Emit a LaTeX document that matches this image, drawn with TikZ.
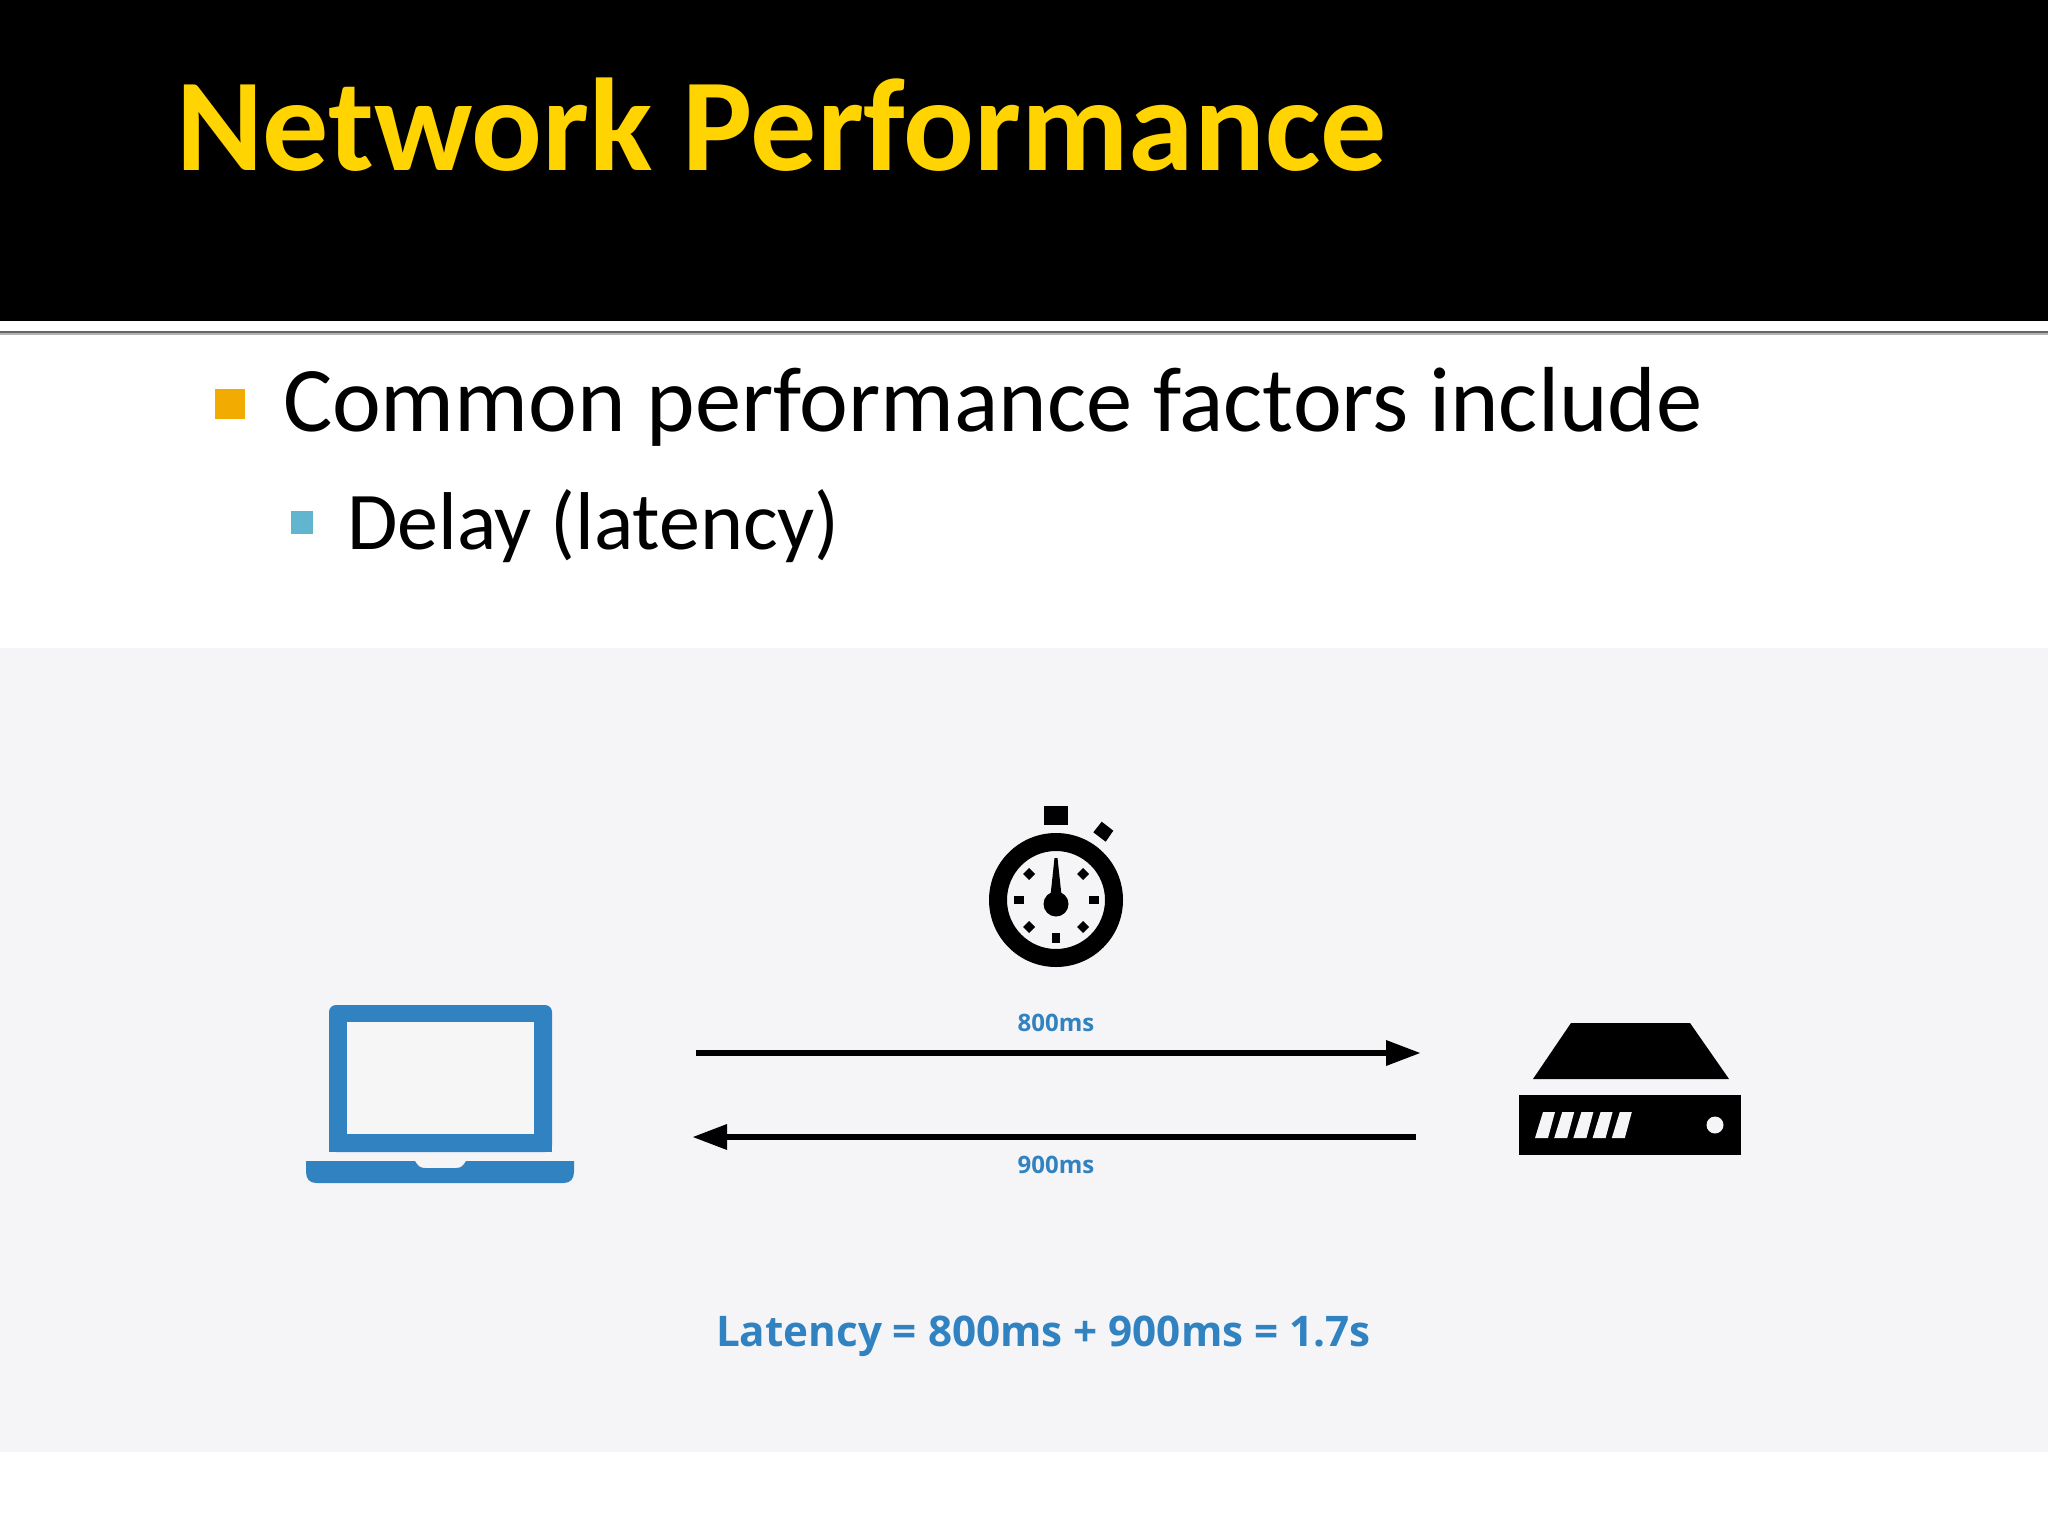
\documentclass[tikz,border=0pt]{standalone}
\usepackage{fontspec}
\setmainfont{Carlito}
\newfontfamily\osans{Open Sans}
\definecolor{panelgrey}{HTML}{F5F4F7}
\definecolor{lapblue}{HTML}{3182C0}
\definecolor{titleyellow}{HTML}{FFD400}
\definecolor{bulletorange}{HTML}{F2AB00}
\definecolor{bulletteal}{HTML}{62B5CF}
\definecolor{screenfill}{HTML}{F6F6F6}
\tikzset{
  txt/.style={inner sep=0pt,outer sep=0pt,anchor=base west},
  ms/.style={inner sep=0pt,outer sep=0pt,anchor=base,text=lapblue,font=\osans\bfseries\fontsize{24}{24}\selectfont},
  flow/.style={line width=6pt,draw=black},
  head/.style={fill=black,draw=none},
}
\begin{document}
\begin{tikzpicture}[x=1pt,y=-1pt]
\useasboundingbox (0,0) rectangle (2048,1536);
\fill[white] (0,0) rectangle (2048,1536);
\fill[black] (0,0) rectangle (2048,321);
\fill[black!30] (0,333) rectangle (2048,335);
\fill[black!60] (0,331) rectangle (2048,333);
\fill[panelgrey] (0,648) rectangle (2048,1452);
% texts
\node[txt,text=titleyellow,font=\bfseries\fontsize{132}{132}\selectfont] (title) at (176,171) {Network Performance};
\node[txt,font=\fontsize{92.4}{92.4}\selectfont] (l1) at (283,431) {Common performance factors include};
\node[txt,font=\fontsize{82}{82}\selectfont] (l2) at (347,549) {Delay (latency)};
\fill[bulletorange] (215,389) rectangle (245,419);
\fill[bulletteal] (291,511) rectangle (313,534);
% laptop
\fill[lapblue,rounded corners=7pt] (329,1152) -- (329,1005) -- (552,1005) -- (552,1152) -- cycle;
\fill[lapblue] (329,1140) rectangle (552,1152);
\fill[screenfill] (347,1022) rectangle (534,1134);
\fill[lapblue] (306,1161) -- (415,1161) .. controls (418,1166) and (420,1168) .. (425,1168) -- (456,1168) .. controls (461,1168) and (463,1166) .. (466,1161) -- (574,1161) -- (574,1172) .. controls (574,1179) and (570,1183) .. (564,1183) -- (316,1183) .. controls (310,1183) and (306,1179) .. (306,1172) -- cycle;
% stopwatch
\fill[black,even odd rule] (1056,900) circle (67) (1056,900) circle (49);
\fill[black] (1044,806) rectangle (1068,825);
\fill[black] (1101.7,821.7) -- (1113.3,830.7) -- (1105.7,841.7) -- (1093.3,832.3) -- cycle;
\fill[black] (1056,904) circle (12.5);
\fill[black] (1054.5,858) -- (1057.5,858) -- (1062,900) -- (1050,900) -- cycle;
\fill[black] (1014,896) rectangle (1024,904);
\fill[black] (1089,896) rectangle (1099,904);
\fill[black] (1052,933) rectangle (1060,943);
\foreach \cx/\cy in {1029/874,1083/874,1029/927,1083/927}
  \fill[black] (\cx-6,\cy) -- (\cx,\cy-6) -- (\cx+6,\cy) -- (\cx,\cy+6) -- cycle;
% server
\fill[black] (1571,1023) -- (1690,1023) -- (1729,1079) -- (1533,1079) -- cycle;
\fill[black] (1519,1095) rectangle (1741,1155);
\foreach \i in {0,1,2,3,4}
  \fill[panelgrey,xshift=\i*19.2pt] (1535,1138) -- (1548,1138) -- (1555,1112) -- (1543,1112) -- cycle;
\fill[panelgrey] (1715,1125) circle (8.5);
% arrows
\coordinate (a1s) at (696,1053);
\coordinate (a1b) at (1388,1053);
\coordinate (a1t) at (1420,1053);
\coordinate (a2s) at (1416,1137);
\coordinate (a2b) at (725,1137);
\coordinate (a2t) at (693,1137);
\draw[flow] (a1s) -- (a1b);
\fill[head] (a1t) -- (1386,1040) -- (1386,1066) -- cycle;
\draw[flow] (a2s) -- (a2b);
\fill[head] (a2t) -- (727,1124) -- (727,1150) -- cycle;
\node[ms] (t800) at (1056,1031) {800ms};
\node[ms] (t900) at (1056,1173) {900ms};
\node[txt,text=lapblue,font=\osans\bfseries\fontsize{42.2}{42.2}\selectfont] (lat) at (716,1346) {Latency = 800ms + 900ms = 1.7s};
\end{tikzpicture}
\end{document}
